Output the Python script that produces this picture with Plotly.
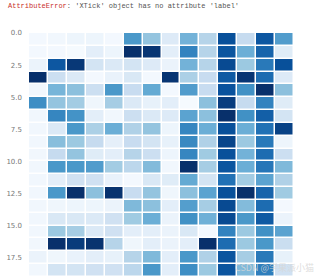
import plotly.graph_objects as go

# heatmap values (rows 0..18, 14 columns)
row_00 = [0.02, 0.03, 0.05, 0.05, 0.02, 0.60, 0.40, 0.13, 0.48, 0.30, 0.88, 0.25, 0.85, 0.58]
row_01 = [0.02, 0.02, 0.01, 0.10, 0.05, 1.00, 0.98, 0.10, 0.68, 0.30, 0.86, 0.50, 0.80, 0.12]
row_02 = [0.06, 0.85, 0.97, 0.18, 0.14, 0.18, 0.13, 0.06, 0.48, 0.30, 0.90, 0.38, 0.72, 0.88]
row_03 = [1.00, 0.22, 0.14, 0.02, 0.07, 0.15, 0.02, 0.98, 0.33, 0.24, 0.84, 0.98, 0.77, 0.13]
row_04 = [0.03, 0.47, 0.42, 0.22, 0.60, 0.24, 0.52, 0.02, 0.58, 0.24, 0.87, 0.63, 1.00, 0.42]
row_05 = [0.64, 0.40, 0.36, 0.04, 0.35, 0.14, 0.08, 0.10, 0.01, 0.42, 0.95, 0.25, 0.68, 0.12]
row_06 = [0.03, 0.67, 0.62, 0.10, 0.03, 0.22, 0.14, 0.13, 0.55, 0.42, 1.00, 0.63, 0.82, 0.18]
row_07 = [0.03, 0.14, 0.60, 0.33, 0.50, 0.32, 0.40, 0.05, 0.67, 0.50, 0.88, 0.50, 0.75, 0.93]
row_08 = [0.03, 0.43, 0.38, 0.25, 0.09, 0.24, 0.18, 0.08, 0.66, 0.32, 0.92, 0.38, 0.72, 0.05]
row_09 = [0.03, 0.25, 0.40, 0.12, 0.10, 0.30, 0.22, 0.05, 0.67, 0.37, 0.88, 0.48, 0.77, 0.22]
row_10 = [0.03, 0.60, 0.60, 0.58, 0.36, 0.28, 0.44, 0.03, 1.00, 0.35, 0.86, 0.50, 0.73, 0.45]
row_11 = [0.03, 0.10, 0.20, 0.20, 0.07, 0.02, 0.15, 0.12, 0.52, 0.18, 0.75, 0.36, 0.55, 0.32]
row_12 = [0.03, 0.60, 1.00, 0.42, 0.99, 0.24, 0.40, 0.04, 0.42, 0.55, 0.88, 1.00, 0.80, 0.37]
row_13 = [0.03, 0.04, 0.05, 0.05, 0.06, 0.45, 0.42, 0.10, 0.57, 0.35, 0.90, 0.44, 0.77, 0.02]
row_14 = [0.03, 0.15, 0.15, 0.14, 0.20, 0.37, 0.50, 0.06, 0.63, 0.49, 0.90, 0.60, 0.84, 0.06]
row_15 = [0.03, 0.38, 0.35, 0.14, 0.20, 0.10, 0.10, 0.06, 0.15, 0.02, 0.68, 0.38, 0.63, 0.55]
row_16 = [0.03, 1.00, 0.96, 0.99, 0.30, 0.04, 0.10, 0.06, 0.10, 1.00, 0.77, 0.38, 0.60, 0.23]
row_17 = [0.06, 0.04, 0.07, 0.10, 0.08, 0.30, 0.45, 0.10, 0.60, 0.32, 0.86, 0.35, 0.72, 0.08]
row_18 = [0.03, 0.18, 0.18, 0.20, 0.20, 0.28, 0.60, 0.10, 0.64, 0.38, 0.86, 0.45, 0.70, 0.20]

rows = [row_00, row_01, row_02, row_03, row_04, row_05, row_06, row_07, row_08, row_09,
        row_10, row_11, row_12, row_13, row_14, row_15, row_16, row_17, row_18]

col_centers = [i + 0.5 for i in range(14)]
row_centers = [j + 0.5 for j in range(len(rows))]

y_tick_vals = [0, 2.5, 5, 7.5, 10, 12.5, 15, 17.5]
y_tick_text = ["0.0", "2.5", "5.0", "7.5", "10.0", "12.5", "15.0", "17.5"]

blues = [
    [0.0, "#f7fbff"], [0.125, "#deebf7"], [0.25, "#c6dbef"], [0.375, "#9ecae1"],
    [0.5, "#6baed6"], [0.625, "#4292c6"], [0.75, "#2171b5"], [0.875, "#08519c"],
    [1.0, "#08306b"],
]

fig = go.Figure(go.Heatmap(
    z=rows, x=col_centers, y=row_centers,
    colorscale=blues, zmin=0, zmax=1, showscale=False,
    xgap=1.5, ygap=1.5, hoverinfo="skip",
))

L, R, T, B, W, H = 29, 26, 33, 0, 320, 277
pw, ph = W - L - R, H - T - B

def px_x(px):
    return (px - L) / pw

def px_y(py):
    return (H - B - py) / ph

fig.update_layout(
    width=W, height=H,
    margin=dict(l=L, r=R, t=T, b=B, pad=0),
    paper_bgcolor="white", plot_bgcolor="white",
    showlegend=False,
    xaxis=dict(range=[0, 14], showgrid=False, zeroline=False, showticklabels=False,
               ticks="", showline=False, fixedrange=True),
    yaxis=dict(range=[19, 0], showgrid=False, zeroline=False, ticks="",
               tickvals=y_tick_vals, ticktext=y_tick_text,
               tickfont=dict(family="DejaVu Sans", size=7, color="#777777"),
               ticklabelstandoff=6, showline=False, fixedrange=True),
    annotations=[
        dict(xref="paper", yref="paper", x=px_x(6), y=px_y(5.5),
             xanchor="left", yanchor="middle", showarrow=False,
             text="<span style='color:#c9302c'>AttributeError</span>: 'XTick' object has no attribute 'label'",
             font=dict(family="Liberation Mono", size=7, color="#555555")),
        dict(xref="paper", yref="paper", x=px_x(316), y=px_y(267),
             xanchor="right", yanchor="middle", showarrow=False,
             text="CSDN @学果派小猫",
             font=dict(family="Noto Sans CJK SC", size=9, color="rgba(215,215,215,0.85)")),
    ],
)

fig.write_html("out.html")
